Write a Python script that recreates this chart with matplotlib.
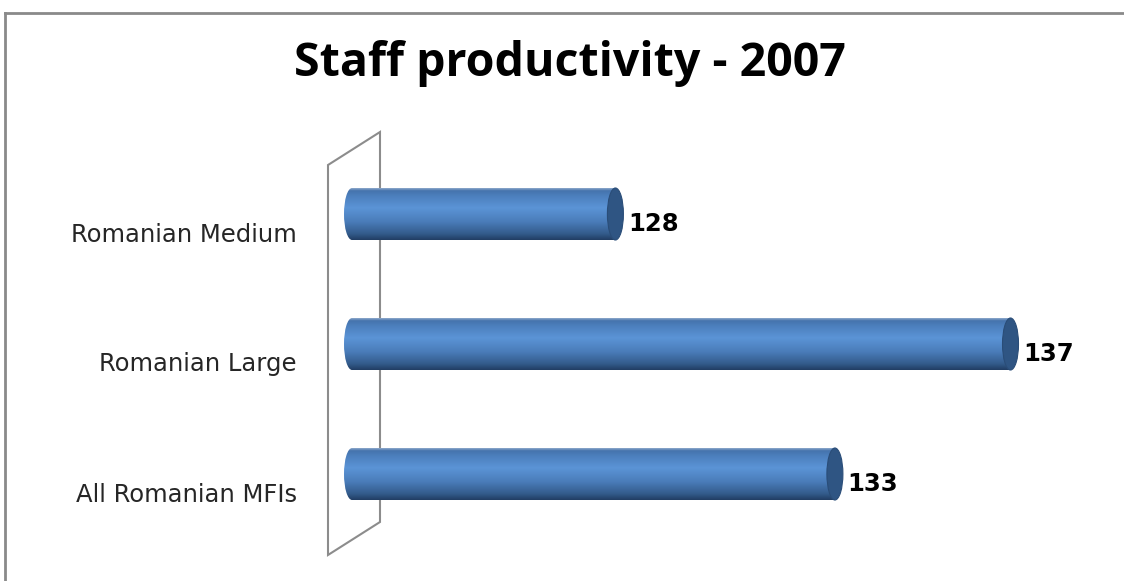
import matplotlib
matplotlib.use('Agg')
import matplotlib.pyplot as plt
import numpy as np
from matplotlib.patches import Rectangle, Ellipse, Polygon
from matplotlib.colors import LinearSegmentedColormap
from matplotlib.transforms import ScaledTranslation

# data (bottom to top)
categories = ['All Romanian MFIs', 'Romanian Large', 'Romanian Medium']
values = [133, 137, 128]
base = 122  # axis minimum used by the original chart

W, H = 1124, 581
fig = plt.figure(figsize=(W / 100, H / 100), dpi=100)
fig.patch.set_facecolor('white')

# outer chart border (right/bottom run off the picture)
fig.add_artist(plt.Line2D([5 / W, 5 / W], [0, 1 - 13 / H], transform=fig.transFigure,
                          color='#8a8a8a', lw=2))
fig.add_artist(plt.Line2D([5 / W, 1], [1 - 13 / H, 1 - 13 / H], transform=fig.transFigure,
                          color='#8a8a8a', lw=2))

# axes placed in pixel terms
px_per_unit = 43.9
ax_l, ax_r = 330, 1110
ax_top, ax_bot = 132, 555
ax = fig.add_axes([ax_l / W, 1 - ax_bot / H, (ax_r - ax_l) / W, (ax_bot - ax_top) / H])
unit_y = 130.0
xlim = (base - (352 - ax_l) / px_per_unit, base + (ax_r - 352) / px_per_unit)
ylim = (-81 / unit_y, -81 / unit_y + (ax_bot - ax_top) / unit_y)
ax.patch.set_alpha(0)
for s in ax.spines.values():
    s.set_visible(False)
ax.set_xticks([])

# 3D back wall
wall = Polygon([(328 / W, 1 - 165 / H), (380 / W, 1 - 132 / H),
                (380 / W, 1 - 522 / H), (328 / W, 1 - 555 / H)],
               closed=True, transform=fig.transFigure, facecolor='white',
               edgecolor='#8c8c8c', lw=1.5, zorder=0)
fig.add_artist(wall)

ypos = np.arange(len(categories))
bar_h = 0.4
bars = ax.barh(ypos, [v - base for v in values], left=base, height=bar_h,
               color='none', edgecolor='none', zorder=2)

cmap = LinearSegmentedColormap.from_list('cyl', [
    (0.0, '#213d63'), (0.12, '#335b8b'), (0.35, '#4a7cb9'),
    (0.62, '#5b94d6'), (0.85, '#4c7fbd'), (0.95, '#4574ad'), (1.0, '#8fa9cc')])
grad = np.linspace(0, 1, 256).reshape(-1, 1)
cap_w = 16 / px_per_unit  # ellipse width in data units

for b in bars:
    x0, y0 = b.get_x(), b.get_y()
    x1, h = x0 + b.get_width(), b.get_height()
    yc = y0 + h / 2
    body = Rectangle((x0, y0), x1 - x0, h, transform=ax.transData)
    left_end = Ellipse((x0, yc), cap_w, h, transform=ax.transData)
    for clip in (body, left_end):
        im = ax.imshow(grad, extent=[x0 - cap_w, x1, y0, y0 + h],
                       origin='lower', aspect='auto', cmap=cmap, zorder=3,
                       interpolation='bilinear')
        im.set_clip_path(clip)
    ax.add_patch(Ellipse((x1, yc), cap_w, h, facecolor='#2f5583',
                         edgecolor='#2a4d78', lw=0.8, zorder=4))
    ax.annotate(f'{b.get_width() + base:g}', xy=(x1, yc), xytext=(9, -7),
                textcoords='offset points', ha='left', va='center',
                fontsize=17.5, fontweight='bold', family='DejaVu Sans',
                color='black', zorder=5)

ax.set_xlim(*xlim)
ax.set_ylim(*ylim)

ax.set_yticks(ypos)
ax.set_yticklabels(categories, fontsize=17.5, family='DejaVu Sans', color='#262626')
ax.tick_params(axis='y', length=0, pad=24)
shift = ScaledTranslation(0, -18 / 100, fig.dpi_scale_trans)
for lab in ax.get_yticklabels():
    lab.set_transform(lab.get_transform() + shift)

fig.text(570 / W, 1 - 76 / H, 'Staff productivity - 2007', ha='center', va='baseline',
         fontsize=33.5, fontweight='bold', family='Open Sans', color='black')

fig.savefig('out.png', dpi=100)
